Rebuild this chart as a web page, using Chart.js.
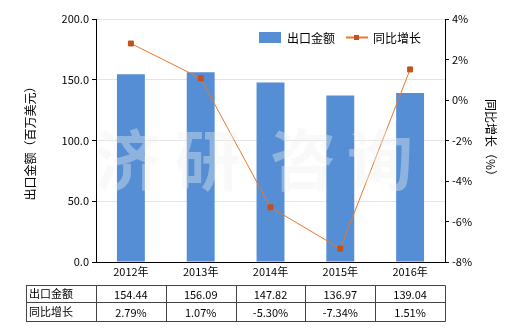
<!DOCTYPE html>
<html>
<head>
<meta charset="utf-8">
<script src="https://cdn.jsdelivr.net/npm/chart.js@4.4.0/dist/chart.umd.min.js"></script>
<style>
  html, body { margin: 0; padding: 0; background: #fff; }
  #wrap { width: 520px; height: 330px; }
</style>
</head>
<body>
<div id="wrap"><canvas id="chart" width="520" height="330"></canvas></div>
<script>
const years = ['2012年', '2013年', '2014年', '2015年', '2016年'];
const exportValues = [154.44, 156.09, 147.82, 136.97, 139.04];
const growthRates = [2.79, 1.07, -5.30, -7.34, 1.51];
const exportLabels = ['154.44', '156.09', '147.82', '136.97', '139.04'];
const growthLabels = ['2.79%', '1.07%', '-5.30%', '-7.34%', '1.51%'];
const watermark = ['济', '研', '咨', '询'];

const FONT = '"Noto Sans CJK SC", "DejaVu Sans", sans-serif';
const BAR_COLOR = '#558ED5';
const LINE_COLOR = '#E8782C';
const POINT_COLOR = '#C4501A';

// faint watermark over the plot
const watermarkPlugin = {
    id: 'watermark',
    afterDatasetsDraw(chart) {
        const ctx = chart.ctx;
        const xs = [128, 208, 303, 380];
        ctx.save();
        ctx.font = 'bold 66px ' + FONT;
        ctx.fillStyle = 'rgba(240, 240, 240, 0.38)';
        ctx.textAlign = 'center';
        ctx.textBaseline = 'middle';
        watermark.forEach((ch, i) => ctx.fillText(ch, xs[i], 160));
        ctx.restore();
    }
};

// legend inside the plot area
const legendPlugin = {
    id: 'innerLegend',
    afterDraw(chart) {
        const ctx = chart.ctx;
        const ds = chart.data.datasets;
        ctx.save();
        ctx.font = '12px ' + FONT;
        ctx.textBaseline = 'middle';
        ctx.fillStyle = BAR_COLOR;
        ctx.fillRect(259, 32, 22, 11);
        ctx.fillStyle = '#000';
        ctx.fillText(ds[1].label, 287, 38);

        ctx.strokeStyle = LINE_COLOR;
        ctx.lineWidth = 2;
        ctx.beginPath();
        ctx.moveTo(346, 37.5);
        ctx.lineTo(368, 37.5);
        ctx.stroke();
        ctx.fillStyle = POINT_COLOR;
        ctx.fillRect(354, 35, 5, 5);
        ctx.fillStyle = '#000';
        ctx.fillText(ds[0].label, 373, 38);
        ctx.restore();
    }
};

// data table under the x axis
const tablePlugin = {
    id: 'dataTable',
    afterDraw(chart) {
        const ctx = chart.ctx;
        const xScale = chart.scales.x;
        const n = years.length;
        const colW = (xScale.right - xScale.left) / n;
        const left = 26;
        const rows = [285.5, 302.5, 321.5];
        ctx.save();
        ctx.strokeStyle = '#444';
        ctx.lineWidth = 1;
        ctx.beginPath();
        rows.forEach(y => {
            ctx.moveTo(left, y);
            ctx.lineTo(Math.round(xScale.right) + 0.5, y);
        });
        ctx.moveTo(left + 0.5, rows[0]);
        ctx.lineTo(left + 0.5, rows[2]);
        for (let i = 0; i <= n; i++) {
            const x = Math.round(xScale.left + i * colW) + 0.5;
            ctx.moveTo(x, rows[0]);
            ctx.lineTo(x, rows[2]);
        }
        ctx.stroke();

        ctx.fillStyle = '#000';
        ctx.font = '11px ' + FONT;
        ctx.textBaseline = 'middle';
        ctx.textAlign = 'left';
        ctx.fillText(chart.data.datasets[1].label, left + 3, (rows[0] + rows[1]) / 2);
        ctx.fillText(chart.data.datasets[0].label, left + 3, (rows[1] + rows[2]) / 2);
        ctx.textAlign = 'center';
        for (let i = 0; i < n; i++) {
            const cx = xScale.getPixelForValue(i);
            ctx.fillText(exportLabels[i], cx, (rows[0] + rows[1]) / 2 + 1);
            ctx.fillText(growthLabels[i], cx, (rows[1] + rows[2]) / 2 + 1);
        }
        ctx.restore();
    }
};

const ctx = document.getElementById('chart');
ctx.chart = new Chart(ctx, {
    type: 'bar',
    data: {
        labels: years,
        datasets: [{
            type: 'line',
            label: '同比增长',
            data: growthRates,
            yAxisID: 'y1',
            borderColor: LINE_COLOR,
            backgroundColor: POINT_COLOR,
            borderWidth: 1,
            tension: 0,
            pointStyle: 'rect',
            pointRadius: 3.5,
            pointBackgroundColor: POINT_COLOR,
            pointBorderColor: POINT_COLOR,
            order: 0
        }, {
            type: 'bar',
            label: '出口金额',
            data: exportValues,
            yAxisID: 'y',
            backgroundColor: BAR_COLOR,
            barPercentage: 0.4,
            categoryPercentage: 1.0,
            order: 1
        }]
    },
    options: {
        responsive: false,
        animation: false,
        layout: {
            padding: { top: 19, left: 0, right: 0, bottom: 48 }
        },
        plugins: {
            legend: { display: false },
            tooltip: { enabled: false }
        },
        scales: {
            x: {
                grid: { drawOnChartArea: false, drawTicks: false },
                border: { color: '#000' },
                ticks: { color: '#000', font: { family: FONT, size: 11 }, padding: 3 },
                afterFit: s => { s.height = 20; }
            },
            y: {
                position: 'left',
                min: 0,
                max: 200,
                ticks: {
                    stepSize: 50,
                    color: '#000',
                    font: { family: FONT, size: 11 },
                    padding: 3,
                    callback: v => v.toFixed(1)
                },
                grid: { color: '#e4e4e4', tickColor: '#000', tickLength: 4 },
                border: { color: '#000' },
                title: {
                    display: true,
                    text: '出口金额（百万美元）',
                    color: '#000',
                    font: { family: FONT, size: 12 },
                    padding: { top: 23, bottom: 0 }
                },
                afterFit: s => { s.width = 96; }
            },
            y1: {
                position: 'right',
                min: -8,
                max: 4,
                ticks: {
                    stepSize: 2,
                    color: '#000',
                    font: { family: FONT, size: 11 },
                    padding: 3,
                    callback: v => v + '%'
                },
                grid: { drawOnChartArea: false, tickColor: '#000', tickLength: 4 },
                border: { color: '#000' },
                title: {
                    display: true,
                    text: '同比增长（%）',
                    color: '#000',
                    font: { family: FONT, size: 12 },
                    padding: { top: 22, bottom: 0 }
                },
                afterFit: s => { s.width = 75; }
            }
        }
    },
    plugins: [watermarkPlugin, legendPlugin, tablePlugin]
});
</script>
</body>
</html>
